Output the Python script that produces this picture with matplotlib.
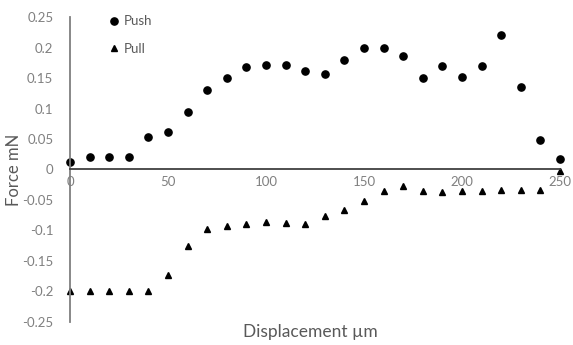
import matplotlib.pyplot as plt

plt.rcParams['font.family'] = ['Lato', 'DejaVu Sans']

# displacement (um) and force (mN)
displacement = [0, 10, 20, 30, 40, 50, 60, 70, 80, 90, 100, 110, 120, 130,
                140, 150, 160, 170, 180, 190, 200, 210, 220, 230, 240, 250]
push = [0.013, 0.020, 0.021, 0.021, 0.053, 0.061, 0.094, 0.131, 0.150, 0.168,
        0.172, 0.171, 0.161, 0.157, 0.179, 0.200, 0.199, 0.186, 0.150, 0.169,
        0.152, 0.169, 0.220, 0.135, 0.048, 0.018]
pull = [-0.199, -0.199, -0.199, -0.199, -0.199, -0.173, -0.125, -0.097, -0.092,
        -0.089, -0.086, -0.088, -0.089, -0.077, -0.066, -0.051, -0.035, -0.027,
        -0.036, -0.037, -0.036, -0.035, -0.034, -0.033, -0.033, -0.002]
xticks = [0, 50, 100, 150, 200, 250]
yticks = [-0.25, -0.2, -0.15, -0.1, -0.05, 0, 0.05, 0.1, 0.15, 0.2, 0.25]
ytick_labels = ['-0.25', '-0.2', '-0.15', '-0.1', '-0.05', '0',
                '0.05', '0.1', '0.15', '0.2', '0.25']

fig = plt.figure(figsize=(5.73, 3.45), dpi=100)
ax = fig.add_axes([0.1222, 0.0667, 0.855, 0.884])

ax.plot(displacement, push, 'o', color='black', markersize=5.2, label='Push', clip_on=False)
ax.plot(displacement, pull, '^', color='black', markersize=4.8, label='Pull', clip_on=False)

ax.set_xlim(0, 250)
ax.set_ylim(-0.25, 0.25)
ax.set_xticks(xticks)
ax.set_yticks(yticks, ytick_labels)

for side in ['top', 'right']:
    ax.spines[side].set_visible(False)
ax.spines['bottom'].set_position('zero')
ax.spines['bottom'].set_color('#404040')
ax.spines['bottom'].set_linewidth(1.3)
ax.spines['left'].set_color('#7f7f7f')
ax.spines['left'].set_linewidth(1.3)
ax.tick_params(length=0, labelsize=9.5, labelcolor='#808080')
ax.tick_params(axis='x', pad=5)
ax.tick_params(axis='y', pad=12)

ax.set_xlabel('Displacement µm', fontsize=12.5, color='#595959')
ax.xaxis.set_label_coords(0.49, -0.005)
ax.set_ylabel('Force mN', fontsize=12, color='#595959')
ax.yaxis.set_label_coords(-0.098, 0.5)

ax.legend(loc='upper left', bbox_to_anchor=(0.05, 1.045), frameon=False,
          fontsize=9.5, labelcolor='#595959', labelspacing=1.2,
          handletextpad=0.1, handlelength=1.2)

fig.savefig('out.png', dpi=100)
